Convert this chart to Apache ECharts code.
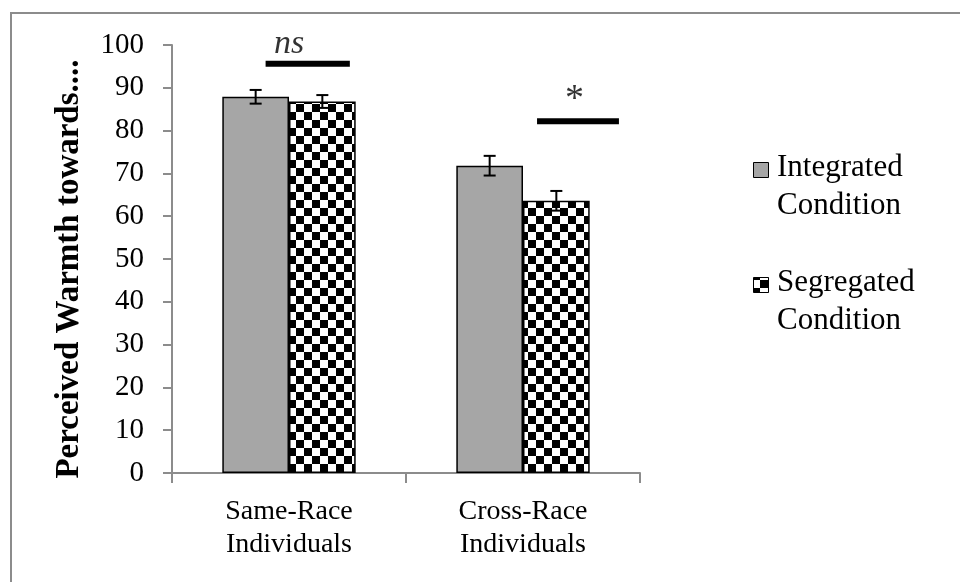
<!DOCTYPE html>
<html>
<head>
<meta charset="utf-8">
<script src="https://cdn.jsdelivr.net/npm/echarts@6/dist/echarts.min.js"></script>
<style>html,body{margin:0;padding:0;background:#fff;}#c{width:960px;height:582px;}</style>
</head>
<body>
<div id="c"></div>
<script>
const categories = ['Same-Race\nIndividuals', 'Cross-Race\nIndividuals'];
const seriesNames = ['Integrated\nCondition', 'Segregated\nCondition'];
const integrated = [87.9, 71.8];
const segregated = [86.8, 63.6];
const integratedErr = [1.6, 2.3];
const segregatedErr = [1.5, 2.3];
const yMin = 0, yMax = 100, yStep = 10;
const yTitle = 'Perceived Warmth towards....';
// significance annotations: [xStart, xEnd, y] in category units (0..2) and value units
const sigLines = [[0.40, 0.76, 95.6], [1.56, 1.91, 82.2]];
const sigLabels = [['ns', 0.50, 100.3, 'italic', 34], ['*', 1.72, 87.1, 'normal', 38]];

const FONT = '"Liberation Serif", "Times New Roman", serif';
const GRAY = '#a6a6a6';
const AXIS = '#8c8c8c';

function checker() {
  const c = document.createElement('canvas');
  c.width = 16; c.height = 16;
  const g = c.getContext('2d');
  g.fillStyle = '#fff'; g.fillRect(0, 0, 16, 16);
  g.fillStyle = '#000';
  g.fillRect(0, 0, 8, 8); g.fillRect(8, 8, 8, 8);
  return c;
}
const pattern = { image: checker(), repeat: 'repeat' };
const catGap = 0.43;

function errSeries(vals, errs, side) {
  return {
    type: 'custom', xAxisIndex: 0, yAxisIndex: 0, z: 10, silent: true,
    data: vals.map((v, i) => [i, v, errs[i]]),
    renderItem(params, api) {
      const i = api.value(0), v = api.value(1), e = api.value(2);
      const band = api.size([1, 0])[0];
      const bw = band * (1 - catGap) / 2;
      const top = api.coord([i, v + e]);
      const bot = api.coord([i, v - e]);
      const x = top[0] + side * bw / 2;
      const cap = 6;
      const st = { stroke: '#000', lineWidth: 2 };
      return { type: 'group', children: [
        { type: 'line', shape: { x1: x, y1: top[1], x2: x, y2: bot[1] }, style: st },
        { type: 'line', shape: { x1: x - cap, y1: top[1], x2: x + cap, y2: top[1] }, style: st },
        { type: 'line', shape: { x1: x - cap, y1: bot[1], x2: x + cap, y2: bot[1] }, style: st }
      ]};
    }
  };
}

const chart = echarts.init(document.getElementById('c'), null, { renderer: 'canvas' });
const series = [
  { name: seriesNames[0], type: 'bar', data: integrated, barGap: '0%', barCategoryGap: (catGap * 100) + '%',
    itemStyle: { color: GRAY, borderColor: '#000', borderWidth: 1.5 } },
  { name: seriesNames[1], type: 'bar', data: segregated, barGap: '0%', barCategoryGap: (catGap * 100) + '%',
    itemStyle: { color: pattern, borderColor: '#000', borderWidth: 1.5 } },
  errSeries(integrated, integratedErr, -1),
  errSeries(segregated, segregatedErr, 1)
];
sigLines.forEach(l => series.push({
  type: 'line', xAxisIndex: 1, yAxisIndex: 0, symbol: 'none', silent: true, clip: false, z: 12,
  data: [[l[0], l[2]], [l[1], l[2]]], lineStyle: { color: '#000', width: 6, cap: 'butt' }
}));
sigLabels.forEach(s => series.push({
  type: 'scatter', xAxisIndex: 1, yAxisIndex: 0, symbolSize: 0, silent: true, clip: false, z: 12,
  data: [[s[1], s[2]]],
  label: { show: true, position: 'inside', formatter: s[0], color: '#000', fontSize: s[4],
    fontStyle: s[3], fontFamily: FONT }
}));

chart.setOption({
  animation: false,
  backgroundColor: '#fff',
  grid: { left: 172, right: 320, top: 45, bottom: 109 },
  xAxis: [
    { type: 'category', data: categories,
      axisLine: { lineStyle: { color: AXIS, width: 2 } },
      axisTick: { show: true, length: 10, lineStyle: { color: AXIS, width: 2 } },
      axisLabel: { color: '#000', fontSize: 28, fontFamily: FONT, lineHeight: 33, margin: 22 } },
    { type: 'value', min: 0, max: 2, show: false }
  ],
  yAxis: {
    type: 'value', min: yMin, max: yMax, interval: yStep,
    name: yTitle, nameLocation: 'middle', nameRotate: 90, nameGap: 86,
    nameTextStyle: { color: '#000', fontSize: 33, fontWeight: 'bold', fontFamily: FONT, padding: [0, 20, 0, 0] },
    axisLine: { show: true, lineStyle: { color: AXIS, width: 2 } },
    axisTick: { show: true, length: 9, lineStyle: { color: AXIS, width: 2 } },
    splitLine: { show: false },
    axisLabel: { color: '#000', fontSize: 29, fontFamily: FONT, margin: 28 }
  },
  graphic: [
    { type: 'rect', shape: { x: 11, y: 13, width: 1100, height: 800 }, style: { fill: 'none', stroke: AXIS, lineWidth: 2 }, silent: true, z: -10 },
    { type: 'rect', shape: { x: 753.5, y: 162.5, width: 15, height: 15 }, style: { fill: GRAY, stroke: '#000', lineWidth: 1 } },
    { type: 'text', x: 777, y: 149, style: { text: seriesNames[0], font: '31px ' + FONT, fill: '#000', lineHeight: 38, verticalAlign: 'top' } },
    { type: 'rect', shape: { x: 753.5, y: 277.5, width: 15, height: 15 }, style: { fill: pattern, stroke: '#000', lineWidth: 1 } },
    { type: 'text', x: 777, y: 264, style: { text: seriesNames[1], font: '31px ' + FONT, fill: '#000', lineHeight: 38, verticalAlign: 'top' } }
  ],
  series: series
});
</script>
</body>
</html>
